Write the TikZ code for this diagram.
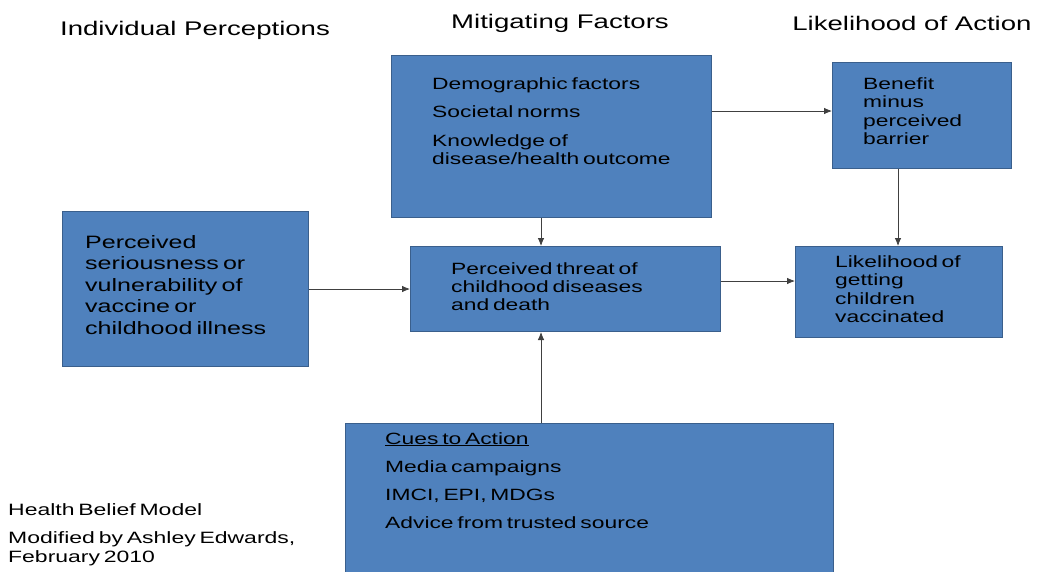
\documentclass[tikz,border=0pt]{standalone}
\usepackage{fontspec}
\setmainfont{Liberation Sans}[FakeStretch=1.4]
\newfontfamily\boxfont{Liberation Sans}[FakeStretch=1.4,WordSpace=0.6]
\usepackage{xcolor}
\usetikzlibrary{positioning,arrows.meta}
\definecolor{slideblue}{HTML}{4F81BD}
\definecolor{slideedge}{HTML}{3A5F8C}

\begin{document}
\begin{tikzpicture}[x=1pt,y=-1pt,
  factor/.style={rectangle,draw=slideedge,fill=slideblue,line width=1pt,inner sep=0pt,anchor=north west},
  boxtext/.style={anchor=north west,inner sep=0pt,align=left,font=\boxfont\fontsize{16.3}{18.6}\selectfont},
  heading/.style={inner sep=0pt,font=\fontsize{19.7}{22}\selectfont},
  link/.style={draw=black!75,line width=0.8pt,-{Latex[length=8pt,width=6.5pt]}}]
\useasboundingbox[fill=white] (0,0) rectangle (1037,571);
% Column headings
\node[heading] (hindiv) at (195,30) {Individual Perceptions};
\node[heading] (hmitig) at (560,23) {Mitigating Factors};
\node[heading] (hlikely) at (912,23) {Likelihood of Action};
% Boxes
\node[factor,minimum width=320,minimum height=162] (mitig) at (391,55) {};
\node[factor,minimum width=179,minimum height=106] (benefit) at (832,62) {};
\node[factor,minimum width=246,minimum height=155] (percep) at (62,211) {};
\node[factor,minimum width=310,minimum height=85] (threat) at (410,246) {};
\node[factor,minimum width=207,minimum height=91] (likeli) at (795,246) {};
\node[factor,minimum width=488,minimum height=160] (cues) at (345,423) {};
% Box texts
\node[boxtext] (tmitig) at (432,77) {Demographic factors\\[10pt]Societal norms\\[10pt]Knowledge of\\disease/health outcome};
\node[boxtext] (tbenefit) at (863,77) {Benefit\\minus\\perceived\\barrier};
\node[boxtext,font=\boxfont\fontsize{17.9}{21.5}\selectfont] (tpercep) at (85,235) {Perceived\\seriousness or\\vulnerability of\\vaccine or\\childhood illness};
\node[boxtext,font=\boxfont\fontsize{16.3}{18}\selectfont] (tthreat) at (451,262) {Perceived threat of\\childhood diseases\\and death};
\node[boxtext] (tlikeli) at (835,255) {Likelihood of\\getting\\children\\vaccinated};
\node[boxtext] (tcues) at (385,432) {\underline{Cues to Action}\\[9.4pt]Media campaigns\\[9.4pt]IMCI, EPI, MDGs\\[9.4pt]Advice from trusted source};
% Caption at the lower left
\node[boxtext,font=\boxfont\fontsize{16.4}{19}\selectfont] (credit) at (8,503) {Health Belief Model\\[9pt]Modified by Ashley Edwards,\\February 2010};
% Arrows
\coordinate (spine) at (541,0);
\coordinate (upper) at (0,111);
\coordinate (drop) at (898,0);
\coordinate (mid) at (0,281);
\draw[link] (mitig.south -| spine) -- (threat.north -| spine);
\draw[link] (cues.north -| spine) -- (threat.south -| spine);
\draw[link] (mitig.east |- upper) -- (benefit.west |- upper);
\draw[link] (benefit.south -| drop) -- (likeli.north -| drop);
\draw[link] (percep.east) -- (threat.west);
\draw[link] (threat.east |- mid) -- (likeli.west |- mid);
\end{tikzpicture}
\end{document}
